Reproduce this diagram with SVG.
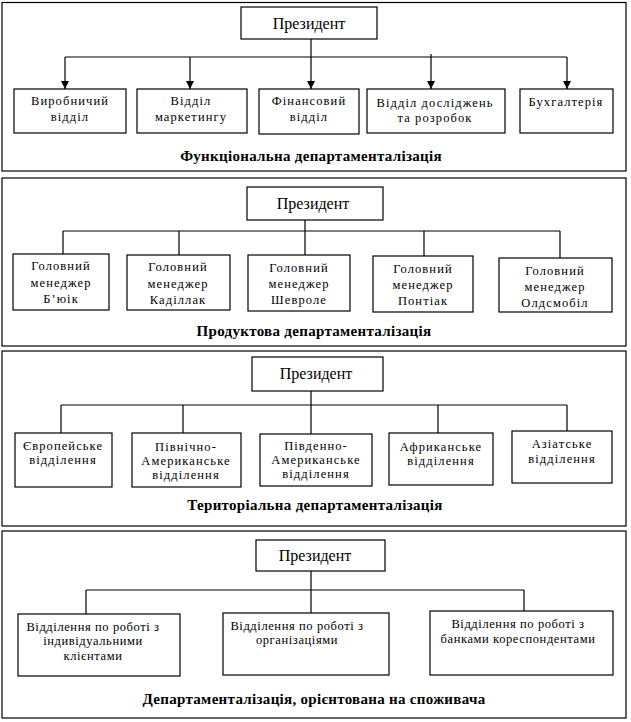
<svg xmlns="http://www.w3.org/2000/svg" width="631" height="722" viewBox="0 0 631 722">
<defs>
<style>
.panel{fill:#fff;stroke:#000;stroke-width:1.2}
.box{fill:#fff;stroke:#000;stroke-width:1.2}
.ln{fill:none;stroke:#000;stroke-width:1.2}
.t{font-size:12.5px;letter-spacing:1.1px}
.t4{font-size:12.5px;letter-spacing:0.6px}
.p{font-size:16px}
.h{font-size:15px;font-weight:bold;letter-spacing:0.3px}
</style>
<marker id="arr" viewBox="0 0 10 10" refX="10" refY="5" markerWidth="8" markerHeight="8" markerUnits="userSpaceOnUse" orient="auto">
<path d="M0,0 L10,5 L0,10 Z" fill="#000"/>
</marker>
</defs>
<rect width="631" height="722" fill="#fff"/>

<g id="panels">
<rect class="panel" x="2" y="2.5" width="624" height="168.5"/>
<rect class="panel" x="2" y="178" width="624" height="168"/>
<rect class="panel" x="2" y="351" width="624" height="175"/>
<rect class="panel" x="2" y="531" width="624" height="187"/>
</g>

<g id="connectors">
<path class="ln" d="M65,57 H567"/>
<path class="ln" d="M311,39 V89" marker-end="url(#arr)"/>
<path class="ln" d="M65,57 V89" marker-end="url(#arr)"/>
<path class="ln" d="M190,57 V89" marker-end="url(#arr)"/>
<path class="ln" d="M431,54 V89" marker-end="url(#arr)"/>
<path class="ln" d="M567,57 V89" marker-end="url(#arr)"/>
<path class="ln" d="M305,220 V255 M63,231 H560 M63,231 V254 M179,231 V255 M424,231 V256 M560,231 V262"/>
<path class="ln" d="M311,391 V434 M61,405 H567 M61,405 V433 M183,405 V433 M438,405 V433 M567,405 V431"/>
<path class="ln" d="M311,571 V613 M86,590 H524 M86,590 V614 M524,590 V611"/>
</g>

<g font-family="Liberation Serif, Times New Roman, serif" fill="#000" text-anchor="middle">
<g id="p1-president"><rect class="box" x="241" y="7" width="136" height="32"/><text class="p" x="309" y="29">Президент</text></g>
<g id="p1-n1"><rect class="box" x="14" y="89" width="112" height="44"/><text class="t" x="70" y="105">Виробничий</text><text class="t" x="70" y="121">відділ</text></g>
<g id="p1-n2"><rect class="box" x="137" y="89" width="110" height="44"/><text class="t" x="191" y="105">Відділ</text><text class="t" x="191" y="121">маркетингу</text></g>
<g id="p1-n3"><rect class="box" x="259" y="89" width="100" height="45"/><text class="t" x="309" y="105">Фінансовий</text><text class="t" x="309" y="121">відділ</text></g>
<g id="p1-n4"><rect class="box" x="367" y="89" width="138" height="44"/><text class="t" x="435" y="107">Відділ досліджень</text><text class="t" x="435" y="122">та розробок</text></g>
<g id="p1-n5"><rect class="box" x="520" y="89" width="93" height="44"/><text class="t" x="566" y="106">Бухгалтерія</text></g>
<text class="h" x="311" y="161">Функціональна департаменталізація</text>

<g id="p2-president"><rect class="box" x="247" y="187" width="136" height="33"/><text class="p" x="313" y="209">Президент</text></g>
<g id="p2-n1"><rect class="box" x="13" y="254" width="96" height="56"/><text class="t" x="61" y="270">Головний</text><text class="t" x="61" y="287">менеджер</text><text class="t" x="61" y="303">Б’юік</text></g>
<g id="p2-n2"><rect class="box" x="127" y="255" width="103" height="55"/><text class="t" x="178" y="271">Головний</text><text class="t" x="178" y="288">менеджер</text><text class="t" x="178" y="304">Каділлак</text></g>
<g id="p2-n3"><rect class="box" x="248" y="255" width="102" height="56"/><text class="t" x="299" y="272">Головний</text><text class="t" x="299" y="288">менеджер</text><text class="t" x="299" y="304">Шевроле</text></g>
<g id="p2-n4"><rect class="box" x="373" y="256" width="100" height="56"/><text class="t" x="423" y="273">Головний</text><text class="t" x="423" y="289">менеджер</text><text class="t" x="423" y="305">Понтіак</text></g>
<g id="p2-n5"><rect class="box" x="499" y="258" width="113" height="54"/><text class="t" x="555" y="275">Головний</text><text class="t" x="555" y="291">менеджер</text><text class="t" x="555" y="307">Олдсмобіл</text></g>
<text class="h" x="314" y="336">Продуктова департаменталізація</text>

<g id="p3-president"><rect class="box" x="252" y="357" width="131" height="34"/><text class="p" x="316" y="379">Президент</text></g>
<g id="p3-n1"><rect class="box" x="15" y="433" width="97" height="54"/><text class="t" x="63" y="450">Європейське</text><text class="t" x="63" y="464">відділення</text></g>
<g id="p3-n2"><rect class="box" x="132" y="433" width="109" height="54"/><text class="t" x="186" y="451">Північно-</text><text class="t" x="186" y="465">Американське</text><text class="t" x="186" y="479">відділення</text></g>
<g id="p3-n3"><rect class="box" x="260" y="434" width="112" height="52"/><text class="t" x="316" y="450">Південно-</text><text class="t" x="316" y="464">Американське</text><text class="t" x="316" y="478">відділення</text></g>
<g id="p3-n4"><rect class="box" x="389" y="433" width="104" height="52"/><text class="t" x="441" y="451">Африканське</text><text class="t" x="441" y="465">відділення</text></g>
<g id="p3-n5"><rect class="box" x="512" y="431" width="100" height="52"/><text class="t" x="562" y="448">Азіатське</text><text class="t" x="562" y="463">відділення</text></g>
<text class="h" x="315" y="510">Територіальна департаменталізація</text>

<g id="p4-president"><rect class="box" x="256" y="540" width="129" height="31"/><text class="p" x="315" y="561">Президент</text></g>
<g id="p4-n1"><rect class="box" x="18" y="614" width="162" height="62"/><text class="t4" x="93" y="631">Відділення по роботі з</text><text class="t4" x="93" y="645">індивідуальними</text><text class="t4" x="93" y="660">клієнтами</text></g>
<g id="p4-n2"><rect class="box" x="223" y="613" width="166" height="62"/><text class="t4" x="297" y="630">Відділення по роботі з</text><text class="t4" x="297" y="644">організаціями</text></g>
<g id="p4-n3"><rect class="box" x="430" y="611" width="183" height="64"/><text class="t4" x="518" y="628">Відділення по роботі з</text><text class="t4" x="518" y="643">банками кореспондентами</text></g>
<text class="h" x="314" y="704">Департаменталізація, орієнтована на споживача</text>
</g>
</svg>
